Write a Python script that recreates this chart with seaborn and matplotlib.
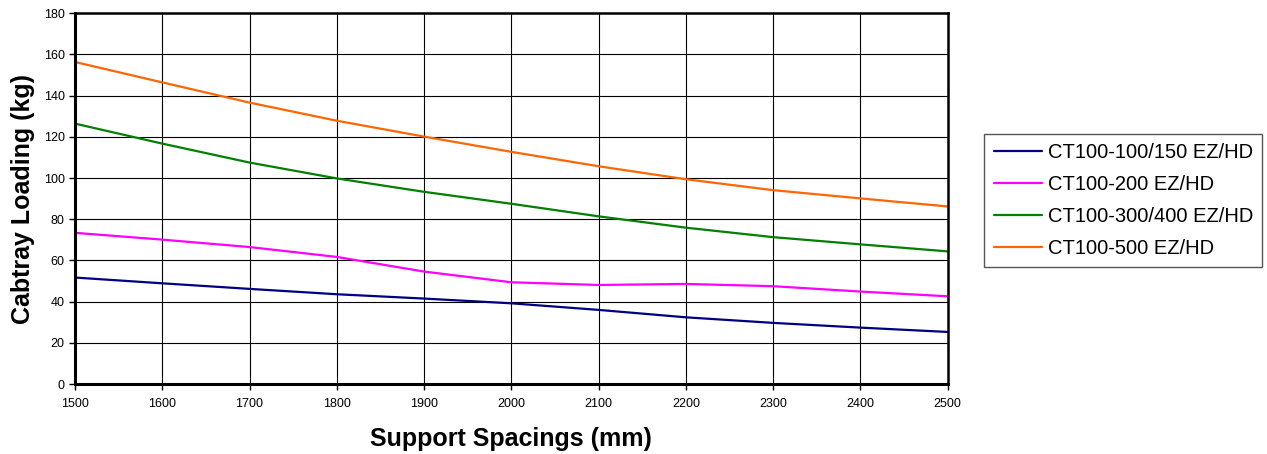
import pandas as pd
import seaborn as sns
import matplotlib.pyplot as plt

# Datos (kg por separacion de soportes)
spacings = [1500, 1600, 1700, 1800, 1900, 2000, 2100, 2200, 2300, 2400, 2500]
ct100_150 = [51.7, 48.9, 46.2, 43.6, 41.5, 39.2, 36.0, 32.4, 29.7, 27.4, 25.3]
ct200 = [73.4, 70.1, 66.5, 61.7, 54.6, 49.4, 48.1, 48.6, 47.5, 44.9, 42.6]
ct300_400 = [126.4, 116.7, 107.5, 99.8, 93.3, 87.5, 81.4, 75.9, 71.3, 67.8, 64.4]
ct500 = [156.3, 146.4, 136.6, 127.8, 120.1, 112.7, 105.7, 99.4, 94.1, 90.1, 86.2]

series_names = ["CT100-100/150 EZ/HD", "CT100-200 EZ/HD",
                "CT100-300/400 EZ/HD", "CT100-500 EZ/HD"]
colores = ["#000080", "#FF00FF", "#008000", "#FF6600"]

# tabla larga para seaborn
frames = []
for nombre, vals in zip(series_names, [ct100_150, ct200, ct300_400, ct500]):
    frames.append(pd.DataFrame({"spacing": spacings, "load": vals, "serie": nombre}))
df = pd.concat(frames, ignore_index=True)

sns.set_style("white")
plt.rcParams['font.family'] = ['Liberation Sans', 'DejaVu Sans']
plt.rcParams['text.color'] = 'black'
plt.rcParams['axes.labelcolor'] = 'black'
plt.rcParams['xtick.color'] = 'black'
plt.rcParams['ytick.color'] = 'black'

fig = plt.figure(figsize=(12.67, 4.54), dpi=100)
ax = fig.add_axes([0.0592, 0.154, 0.6888, 0.817])

sns.lineplot(data=df, x="spacing", y="load", hue="serie",
             palette=dict(zip(series_names, colores)), linewidth=1.6, ax=ax)

ax.set_xlim(1500, 2500)
ax.set_ylim(0, 180)
ax.set_xticks(range(1500, 2501, 100))
ax.set_yticks(range(0, 181, 20))
ax.grid(True, color="black", linewidth=0.8)
ax.set_axisbelow(True)
ax.tick_params(axis="both", direction="out", length=4, width=1, labelsize=9,
               color="black", bottom=True, left=True)
ax.tick_params(axis="x", pad=6)

for lado in ["left", "bottom"]:
    ax.spines[lado].set_linewidth(2.2)
    ax.spines[lado].set_color("black")
for lado in ["top", "right"]:
    ax.spines[lado].set_linewidth(1.8)
    ax.spines[lado].set_color("black")

ax.set_xlabel("Support Spacings (mm)", fontsize=18, fontweight="bold", labelpad=12)
ax.set_ylabel("Cabtray Loading (kg)", fontsize=18, fontweight="bold", labelpad=6)

handles, labels = ax.get_legend_handles_labels()
ax.legend(handles, labels, loc="upper left", bbox_to_anchor=(0.777, 0.705),
          bbox_transform=fig.transFigure, fontsize=14.5, frameon=True,
          fancybox=False, edgecolor="#555555", framealpha=1,
          handlelength=2.4, handletextpad=0.3, labelspacing=0.65,
          borderpad=0.45, borderaxespad=0)
leg = ax.get_legend()
leg.get_frame().set_linewidth(1.0)

fig.savefig("out.png", dpi=100)
